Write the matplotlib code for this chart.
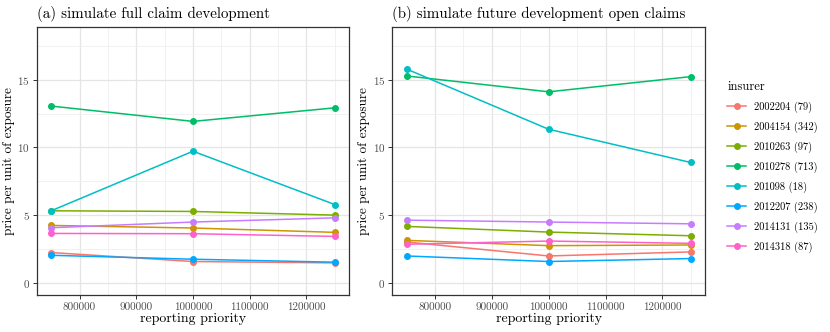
import matplotlib
matplotlib.use("Agg")
import matplotlib.pyplot as plt
from matplotlib.lines import Line2D

plt.rcParams['font.family'] = ['cmr10', 'DejaVu Serif']
plt.rcParams['axes.formatter.use_mathtext'] = True

priority = [750000, 1000000, 1250000]
insurers = ['2002204 (79)', '2004154 (342)', '2010263 (97)', '2010278 (713)',
            '201098 (18)', '2012207 (238)', '2014131 (135)', '2014318 (87)']
colors = ['#F8766D', '#CD9600', '#7CAE00', '#00BE67',
          '#00BFC4', '#00A9FF', '#C77CFF', '#FF61CC']

# (a) simulate full claim development
full_dev = [
    [2.25, 1.59, 1.49],
    [4.25, 4.06, 3.74],
    [5.33, 5.28, 5.01],
    [13.05, 11.92, 12.92],
    [5.33, 9.72, 5.79],
    [2.05, 1.76, 1.54],
    [4.08, 4.50, 4.81],
    [3.66, 3.64, 3.44],
]
# (b) simulate future development open claims
open_dev = [
    [3.03, 2.00, 2.30],
    [3.15, 2.76, 2.81],
    [4.18, 3.76, 3.49],
    [15.27, 14.10, 15.22],
    [15.78, 11.34, 8.89],
    [2.00, 1.59, 1.81],
    [4.64, 4.50, 4.37],
    [2.86, 3.10, 2.93],
]

fig = plt.figure(figsize=(8.3, 3.32), dpi=100)
ax1 = fig.add_axes([37/830, 1-295.3/332, (349-37)/830, (295.3-26.7)/332])
ax2 = fig.add_axes([392.3/830, 1-295.3/332, (705-392.3)/830, (295.3-26.7)/332])

titles = ['(a) simulate full claim development',
          '(b) simulate future development open claims']

for ax, data, title in zip([ax1, ax2], [full_dev, open_dev], titles):
    ax.set_facecolor('white')
    ax.set_xlim(725000, 1275000)
    ax.set_ylim(-0.9, 18.9)
    ax.set_xticks([800000, 900000, 1000000, 1100000, 1200000])
    ax.set_xticklabels(['800000', '900000', '1000000', '1100000', '1200000'])
    ax.set_yticks([0, 5, 10, 15])
    ax.set_yticks([2.5, 7.5, 12.5, 17.5], minor=True)
    ax.set_xticks([850000, 950000, 1050000, 1150000, 1250000], minor=True)
    ax.grid(True, which='major', color='#E5E5E5', lw=0.9)
    ax.grid(True, which='minor', color='#EFEFEF', lw=0.6)
    ax.set_axisbelow(True)
    ax.tick_params(which='major', length=3, width=0.7, color='#333333',
                   labelsize=8, labelcolor='#4D4D4D', pad=2)
    ax.tick_params(which='minor', length=0)
    for s in ax.spines.values():
        s.set_color('#333333')
        s.set_linewidth(0.9)
    for vals, c in zip(data, colors):
        ax.plot(priority, vals, color=c, lw=1.1, marker='o', ms=4)
    ax.set_xlabel('reporting priority', fontsize=10, labelpad=1)
    ax.set_ylabel('price per unit of exposure', fontsize=9.5, labelpad=2)
    ax.set_title(title, fontsize=10.8, loc='left', pad=6)

handles = [Line2D([], [], color=c, lw=1.1, marker='o', ms=4) for c in colors]
leg = fig.legend(handles, insurers, title='insurer', loc='upper left',
                 bbox_to_anchor=(718/830, 1-71/332), frameon=False,
                 fontsize=7.5, title_fontsize=9, handlelength=1.8,
                 labelspacing=0.84, handletextpad=0.8)
leg._legend_box.align = 'left'

fig.savefig('out.png', dpi=100)
